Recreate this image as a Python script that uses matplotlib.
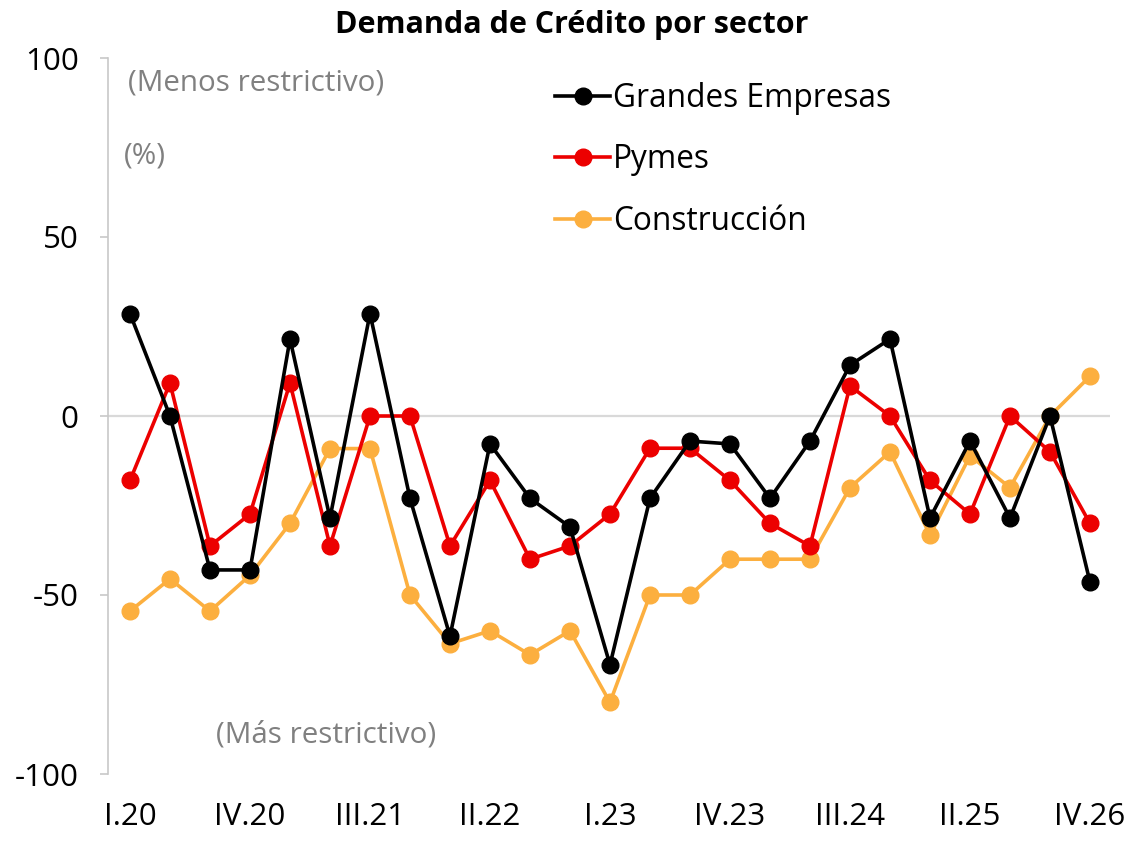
import matplotlib
matplotlib.use("Agg")
import matplotlib.pyplot as plt
import numpy as np

plt.rcParams['font.family'] = ['Open Sans', 'DejaVu Sans']

tick_labels = ["I.20", "IV.20", "III.21", "II.22", "I.23", "IV.23", "III.24", "II.25", "IV.26"]

grandes = [28.6, 0, -43, -43, 21.5, -28.5, 28.6, -23, -61.5, -7.8, -23, -31, -69.5,
           -23, -7, -7.8, -23, -7, 14.2, 21.5, -28.5, -7, -28.5, 0, -46.4]
pymes = [-18, 9.2, -36.3, -27.4, 9.2, -36.3, 0, 0, -36.3, -18, -40, -36.3, -27.4,
         -9, -9, -18, -30, -36.3, 8.4, 0, -18, -27.4, 0, -10, -30]
construccion = [-54.5, -45.5, -54.5, -44.5, -30, -9.1, -9.1, -50, -63.6, -60, -66.7, -60, -80,
                -50, -50, -40, -40, -40, -20, -10, -33.3, -11.1, -20, 0, 11.1]

x = np.arange(len(grandes))

fig = plt.figure(figsize=(11.32, 8.42), dpi=100)
ax = fig.add_axes([108/1132, 68/842, 1002/1132, 716/842])

ax.axhline(0, color="#d9d9d9", lw=1.6, zorder=1)

style = dict(lw=2.6, marker="o", markersize=12)
ax.plot(x, grandes, color="#000000", label="Grandes Empresas", zorder=4, **style)
ax.plot(x, pymes, color="#ec0000", label="Pymes", zorder=3, **style)
ax.plot(x, construccion, color="#fcaf3f", label="Construcción", zorder=2, **style)

ax.set_xlim(-0.55, 24.5)
ax.set_ylim(-100, 100)
ax.set_yticks([-100, -50, 0, 50, 100])
ax.set_yticklabels(["-100", "-50", "0", "50", "100"])
ax.set_xticks(x[::3])
ax.set_xticklabels(tick_labels)

for s in ["top", "right", "bottom"]:
    ax.spines[s].set_visible(False)
ax.spines["left"].set_color("#c8c8c8")
ax.spines["left"].set_linewidth(1.2)

ax.tick_params(axis="y", length=6, width=1.2, color="#c8c8c8", pad=15, labelsize=22.5, labelcolor="black")
ax.tick_params(axis="x", length=0, pad=20, labelsize=22.5, labelcolor="black")

gray = "#808080"
ax.text(-0.05, 93, "(Menos restrictivo)", color=gray, fontsize=21.3, va="center", ha="left")
ax.text(-0.15, 72.5, "(%)", color=gray, fontsize=21.3, va="center", ha="left")
ax.text(2.15, -89, "(Más restrictivo)", color=gray, fontsize=21.3, va="center", ha="left")

leg = ax.legend(loc="upper left", bbox_to_anchor=(0.446, 0.967), frameon=False,
                fontsize=22.8, handlelength=1.75, handletextpad=0.08, labelspacing=0.9,
                borderpad=0, borderaxespad=0)

fig.text(572/1132, 1 - 25/842, "Demanda de Crédito por sector", ha="center", va="center",
         fontsize=22, fontweight="bold")

fig.savefig("out.png", dpi=100)
